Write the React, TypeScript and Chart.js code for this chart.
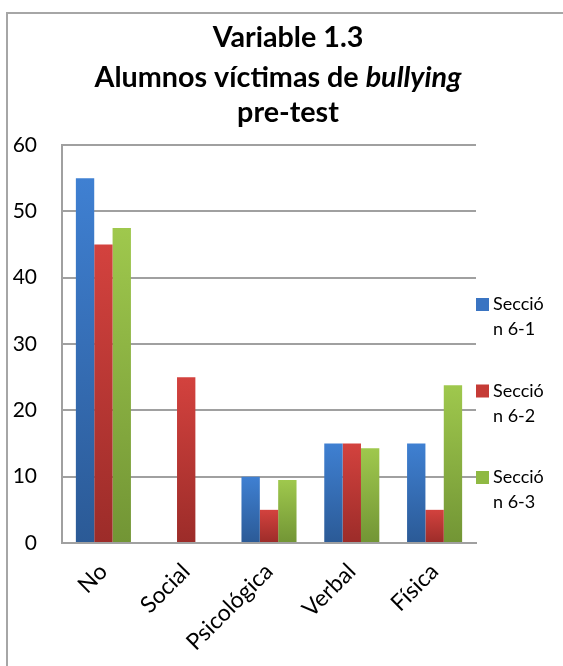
import React, { useEffect, useRef } from "react";
import { Chart, registerables } from "chart.js";

Chart.register(...registerables);

const categories = ["No", "Social", "Psicológica", "Verbal", "Física"];
const seccion61 = [55, 0, 10, 15, 15];
const seccion62 = [45, 25, 5, 15, 5];
const seccion63 = [47.5, 0, 9.5, 14.3, 23.8];
const seriesLabels = ["Sección 6-1", "Sección 6-2", "Sección 6-3"];
const titleLine1 = "Variable 1.3";
const titleLine2a = "Alumnos víctimas de ";
const titleLine2b = "bullying";
const titleLine3 = "pre-test";
const yTicks = { min: 0, max: 60, step: 10 };

const FONT = "Lato, 'Open Sans', sans-serif";
const gradStops = [
  ["#3f80d2", "#2b5a96"],
  ["#d3423e", "#9c2c29"],
  ["#9fc84d", "#729535"],
];
const legendColors = ["#3a74c2", "#c53b36", "#8fb943"];

function barGradient(ctx: any, si: number) {
  const chart = ctx.chart;
  const ys = chart.scales && chart.scales.y;
  if (!ys || ctx.raw == null) return gradStops[si][0];
  const top = ys.getPixelForValue(ctx.raw);
  const bottom = ys.getPixelForValue(0);
  if (!isFinite(top) || !isFinite(bottom) || bottom - top < 1) return gradStops[si][0];
  const g = chart.ctx.createLinearGradient(0, top, 0, bottom);
  g.addColorStop(0, gradStops[si][0]);
  g.addColorStop(1, gradStops[si][1]);
  return g;
}

const decorPlugin = {
  id: "decor",
  afterDraw(chart: any) {
    const c = chart.ctx;
    c.save();
    // outer frame (top and left edges visible)
    c.strokeStyle = "#a6a6a6";
    c.lineWidth = 2;
    c.beginPath();
    c.moveTo(563, 13);
    c.lineTo(7, 13);
    c.lineTo(7, 666);
    c.stroke();

    // title
    c.fillStyle = "#000";
    c.textBaseline = "alphabetic";
    c.textAlign = "left";
    let size = 24;
    c.font = `bold ${size}px ${FONT}`;
    const wa0 = c.measureText(titleLine2a).width;
    c.font = `italic bold ${size}px ${FONT}`;
    const wb0 = c.measureText(titleLine2b).width;
    size = (size * 367) / (wa0 + wb0);
    const bold = `bold ${size.toFixed(2)}px ${FONT}`;
    const ital = `italic bold ${size.toFixed(2)}px ${FONT}`;
    c.font = bold;
    const w1 = c.measureText(titleLine1).width;
    c.fillText(titleLine1, 288 - w1 / 2, 47);
    const wa = c.measureText(titleLine2a).width;
    c.font = ital;
    const wb = c.measureText(titleLine2b).width;
    const x2 = 278 - (wa + wb) / 2;
    c.font = bold;
    c.fillText(titleLine2a, x2, 87);
    c.font = ital;
    c.fillText(titleLine2b, x2 + wa, 87);
    c.font = bold;
    const w3 = c.measureText(titleLine3).width;
    c.fillText(titleLine3, 288 - w3 / 2, 122);

    // legend
    c.font = `18px ${FONT}`;
    const maxW = 58;
    seriesLabels.forEach((lab, i) => {
      const lines: string[] = [];
      let cur = "";
      for (const ch of lab) {
        if (c.measureText(cur + ch).width > maxW && cur.length) {
          lines.push(cur);
          cur = ch;
        } else cur += ch;
      }
      if (cur) lines.push(cur);
      const y0 = 298 + i * 86.5;
      c.fillStyle = legendColors[i];
      c.fillRect(476, y0, 13, 13);
      c.fillStyle = "#000";
      lines.forEach((ln, k) => c.fillText(ln.trim(), 493, y0 + 12 + k * 25));
    });
    c.restore();
  },
};

export default function App() {
  const ref = useRef<HTMLCanvasElement>(null);
  useEffect(() => {
    document.body.style.margin = "0";
    const chart = new Chart(ref.current!, {
      type: "bar",
      data: {
        labels: categories,
        datasets: [seccion61, seccion62, seccion63].map((d, i) => ({
          label: seriesLabels[i],
          data: d,
          backgroundColor: (ctx: any) => barGradient(ctx, i),
          borderWidth: 0,
          categoryPercentage: 0.665,
          barPercentage: 1,
        })),
      },
      options: {
        responsive: false,
        animation: false,
        layout: { padding: { top: 145, right: 87, left: 0, bottom: 0 } },
        plugins: {
          legend: { display: false },
          title: { display: false },
          tooltip: { enabled: false },
        },
        scales: {
          x: {
            afterFit: (s: any) => {
              s.height = 123;
            },
            grid: { display: false, drawTicks: false },
            border: { display: true, color: "#a0a0a0", width: 2 },
            ticks: {
              autoSkip: false,
              minRotation: 45,
              maxRotation: 45,
              padding: 15,
              color: "#000",
              font: { family: FONT, size: 23 },
            },
          },
          y: {
            min: yTicks.min,
            max: yTicks.max,
            afterFit: (s: any) => {
              s.width = 62;
            },
            grid: { color: "#a0a0a0", lineWidth: 2, drawTicks: false },
            border: { display: true, color: "#a0a0a0", width: 2 },
            ticks: {
              stepSize: yTicks.step,
              padding: 25,
              color: "#000",
              font: { family: FONT, size: 21 },
            },
          },
        },
      },
      plugins: [decorPlugin],
    } as any);
    return () => chart.destroy();
  }, []);
  return <canvas ref={ref} width={563} height={666} style={{ display: "block" }} />;
}
